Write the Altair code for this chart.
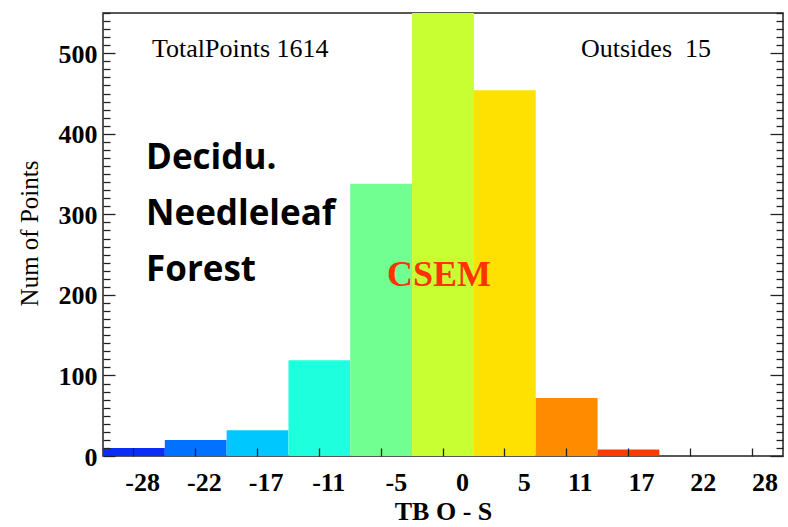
import altair as alt
import pandas as pd

# Histogram of TB O - S for one surface type
bin_labels = ["-28", "-22", "-17", "-11", "-5", "0", "5", "11", "17", "22", "28"]
counts = [10, 20, 32, 119, 338, 550, 454, 72, 8, 0, 0]
bar_colors = ["#0a2ef5", "#0072ff", "#00c8ff", "#1effdd", "#70ff90", "#c8ff32",
              "#ffe100", "#ff8c00", "#ff3c00", "#d00000", "#a00000"]

total_points = 1614
outsides = 15
surface_lines = ["Decidu.", "Needleleaf", "Forest"]
model_name = "CSEM"

y_major = [0, 100, 200, 300, 400, 500]
y_minor = [v for v in range(0, 551, 10) if v % 100 != 0]

df = pd.DataFrame({"bin": bin_labels, "count": counts})

SERIF = "Liberation Serif"
TICK = "#222222"

x_enc = alt.X(
    "bin:N", sort=bin_labels,
    scale=alt.Scale(paddingInner=0, paddingOuter=0),
    axis=alt.Axis(
        title="TB O - S", orient="bottom", offset=-8, tickSize=8, tickWidth=1.3,
        tickColor=TICK, domain=False, labelAngle=0, labelAlign="right", labelOffset=26,
        labelBaseline="alphabetic", labelPadding=34, labelFont=SERIF,
        labelFontSize=26, labelFontWeight="bold", labelColor="black",
        titleFont=SERIF, titleFontSize=26, titleFontWeight="bold", titleColor="black",
        titleBaseline="alphabetic", titleY=71, zindex=1,
    ),
)

y_scale = alt.Scale(domain=[0, 550], nice=False, zero=True)

bars = alt.Chart(df).mark_bar(strokeWidth=0).encode(
    x=x_enc,
    y=alt.Y("count:Q", scale=y_scale, axis=alt.Axis(
        title="Num of Points", orient="left", offset=-12, tickSize=12, tickWidth=1.3,
        tickColor=TICK, values=y_major, domain=False, grid=False,
        labelFont=SERIF, labelFontSize=26, labelFontWeight="bold", labelColor="black",
        labelPadding=6, labelBaseline="middle", labelOffset=1,
        titleFont=SERIF, titleFontSize=25, titleFontWeight="normal", titleColor="black",
        titleAngle=270, titleBaseline="alphabetic", titleAlign="center",
        titleX=-78, titleY=220, zindex=1,
    )),
    color=alt.Color("bin:N", scale=alt.Scale(domain=bin_labels, range=bar_colors), legend=None),
)


def tick_layer(orient, size, values):
    # invisible points that only carry an extra inward-tick axis on the shared y scale
    return alt.Chart(df).mark_point(opacity=0, size=0).encode(
        y=alt.Y("count:Q", scale=y_scale, axis=alt.Axis(
            orient=orient, offset=-size, tickSize=size, tickWidth=1.3, tickColor=TICK,
            values=values, labels=False, domain=False, grid=False, title=None, zindex=1,
        )),
    )


left_minor = tick_layer("left", 7, y_minor)
right_major = tick_layer("right", 13, y_major)
right_minor = tick_layer("right", 7, y_minor)

one = pd.DataFrame({"k": [0]})

total_text = alt.Chart(one).mark_text(
    font=SERIF, fontSize=26, align="left", baseline="alphabetic", color="black"
).encode(x=alt.value(49), y=alt.value(44), text=alt.value(f"TotalPoints {total_points}"))

outside_text = alt.Chart(one).mark_text(
    font=SERIF, fontSize=26, align="left", baseline="alphabetic", color="black"
).encode(x=alt.value(478), y=alt.value(44), text=alt.value(f"Outsides \u00a0{outsides}"))

surface_text = alt.Chart(one).mark_text(
    font="Open Sans", fontSize=35, fontWeight="bold", align="left",
    baseline="alphabetic", color="black", lineHeight=56
).encode(x=alt.value(43), y=alt.value(156), text=alt.value(surface_lines))

model_text = alt.Chart(one).mark_text(
    font=SERIF, fontSize=36, fontWeight="bold", align="left",
    baseline="alphabetic", color="#ff3300"
).encode(x=alt.value(284), y=alt.value(273), text=alt.value(model_name))

chart = alt.layer(
    bars, left_minor, right_major, right_minor,
    total_text, outside_text, surface_text, model_text,
).resolve_axis(y="independent").properties(
    width=680, height=443,
    autosize=alt.AutoSizeParams(type="none"),
    padding={"left": 103, "top": 13, "right": 5, "bottom": 71},
    background="white",
).configure_view(stroke="#222222", strokeWidth=1.5)

chart.save("out.html", embed_options={"renderer": "svg", "actions": False})
